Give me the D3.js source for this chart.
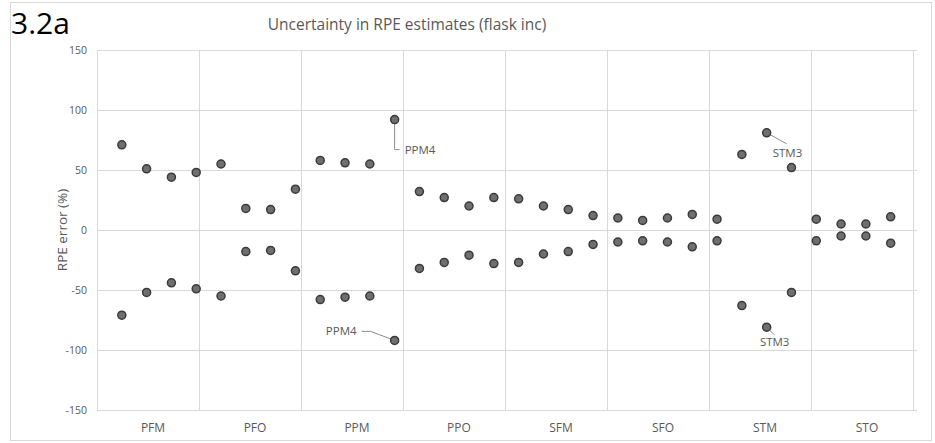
<!DOCTYPE html>
<html>
<head>
<meta charset="utf-8">
<script src="https://cdn.jsdelivr.net/npm/d3@7"></script>
<style>
  body { margin: 0; background: #fff; }
  text { font-family: "Open Sans", "Liberation Sans", sans-serif; }
</style>
</head>
<body>
<div id="chart"></div>
<script>
// Width and height
var chart_width  = 935;
var chart_height = 443;

// Data
var categories = ["PFM", "PFO", "PPM", "PPO", "SFM", "SFO", "STM", "STO"];
// one point per sample, 4 samples per category, in order
var upper_err = [71, 51, 44, 48,  55, 18, 17, 34,  58, 56, 55, 92,  32, 27, 20, 27,
                 26, 20, 17, 12,  10, 8, 10, 13,   9, 63, 81, 52,   9, 5, 5, 11];
var lower_err = [-71, -52, -44, -49,  -55, -18, -17, -34,  -58, -56, -55, -92,  -32, -27, -21, -28,
                 -27, -20, -18, -12,  -10, -9, -10, -14,   -9, -63, -81, -52,   -9, -5, -5, -11];
var y_ticks = [-150, -100, -50, 0, 50, 100, 150];
// labelled outliers: [sample index (1-based), which series, label]
var callouts = [
    [12, "upper", "PPM4"],
    [12, "lower", "PPM4"],
    [27, "upper", "STM3"],
    [27, "lower", "STM3"]
];

var grid_color = '#d9d9d9';
var text_color = '#595959';

var plot = { left: 97, right: 913, top: 50, bottom: 410 };

var svg = d3.select("#chart")
    .append("svg")
    .attr("width", chart_width)
    .attr("height", chart_height);

// outer frame
svg.append("rect")
    .attr("x", 10.5)
    .attr("y", 2.5)
    .attr("width", 921)
    .attr("height", 438)
    .attr("fill", "#fff")
    .attr("stroke", grid_color);

// Scales
var x = d3.scaleLinear()
    .domain([0, 32.9])
    .range([plot.left, plot.right]);

var band = d3.scaleBand()
    .domain(categories)
    .range([plot.left, plot.right]);

var y = d3.scaleLinear()
    .domain([-150, 150])
    .range([plot.bottom, plot.top]);

// horizontal gridlines + y labels
var yAxis = d3.axisLeft(y)
    .tickValues(y_ticks)
    .tickSize(-(plot.right - plot.left + 4))
    .tickPadding(10)
    .tickFormat(function(d){ return d3.format("d")(d).replace("\u2212", "-"); });

var gy = svg.append("g")
    .attr("transform", "translate(" + plot.left + ",0)")
    .call(yAxis);
gy.select(".domain").remove();
gy.selectAll("line").attr("stroke", grid_color).attr("x1", 0).attr("x2", plot.right - plot.left + 4);
gy.selectAll("text")
    .attr("fill", text_color)
    .style("font-size", "10.5px");

// vertical gridlines on category edges
var edges = categories.map(function(c){ return band(c); }).concat([plot.right]);
svg.append("g")
    .selectAll("line")
    .data(edges)
    .enter()
    .append("line")
    .attr("x1", function(d){ return Math.round(d) + 0.5; })
    .attr("x2", function(d){ return Math.round(d) + 0.5; })
    .attr("y1", plot.top)
    .attr("y2", plot.bottom)
    .attr("stroke", grid_color);

// category labels
svg.append("g")
    .selectAll("text")
    .data(categories)
    .enter()
    .append("text")
    .attr("x", function(d){ return band(d) + band.bandwidth() / 2 + 5; })
    .attr("y", 432)
    .attr("text-anchor", "middle")
    .attr("fill", text_color)
    .style("font-size", "12px")
    .text(function(d){ return d; });

// y axis title
svg.append("text")
    .attr("transform", "translate(67," + y(0) + ") rotate(-90)")
    .attr("text-anchor", "middle")
    .attr("fill", text_color)
    .style("font-size", "13.5px")
    .text("RPE error (%)");

// chart title
svg.append("text")
    .attr("x", 407)
    .attr("y", 30)
    .attr("text-anchor", "middle")
    .attr("fill", text_color)
    .style("font-size", "15.5px")
    .text("Uncertainty in RPE estimates (flask inc)");

// panel label
svg.append("text")
    .attr("x", 11)
    .attr("y", 34)
    .attr("fill", "#000")
    .style("font-size", "30px")
    .text("3.2a");

// callout leader lines + labels (drawn under the markers)
var ann = svg.append("g");
callouts.forEach(function(c){
    var i = c[0] - 1;
    var px = x(c[0]);
    var py = c[1] === "upper" ? y(upper_err[i]) : y(lower_err[i]);
    var label = c[2];
    var pts, tx, ty, anchor;
    if (label === "PPM4" && c[1] === "upper") {
        pts = [[px, py], [px, py + 30], [px + 5, py + 30]];
        tx = px + 10; ty = py + 34; anchor = "start";
    } else if (label === "PPM4") {
        pts = [[px, py], [px - 24, py - 9], [px - 33, py - 9]];
        tx = px - 38; ty = py - 5; anchor = "end";
    } else if (c[1] === "upper") {
        pts = [[px, py], [px + 20, py + 11]];
        tx = px + 6; ty = py + 24; anchor = "start";
    } else {
        pts = [[px, py], [px + 8, py + 8]];
        tx = px + 8; ty = py + 19; anchor = "middle";
    }
    ann.append("path")
        .attr("d", d3.line()(pts))
        .attr("fill", "none")
        .attr("stroke", "#8c8c8c")
        .attr("stroke-width", 1);
    ann.append("text")
        .attr("x", tx)
        .attr("y", ty)
        .attr("text-anchor", anchor)
        .attr("fill", text_color)
        .style("font-size", "11.5px")
        .text(label);
});

// markers
function drawSeries(vals){
    svg.append("g")
        .selectAll("circle")
        .data(vals)
        .enter()
        .append("circle")
        .attr("cx", function(d, i){ return x(i + 1); })
        .attr("cy", function(d){ return y(d); })
        .attr("r", 4)
        .attr("fill", "#6f6f6f")
        .attr("stroke", "#3a3a3a")
        .attr("stroke-width", 1.5);
}
drawSeries(upper_err);
drawSeries(lower_err);
</script>
</body>
</html>
